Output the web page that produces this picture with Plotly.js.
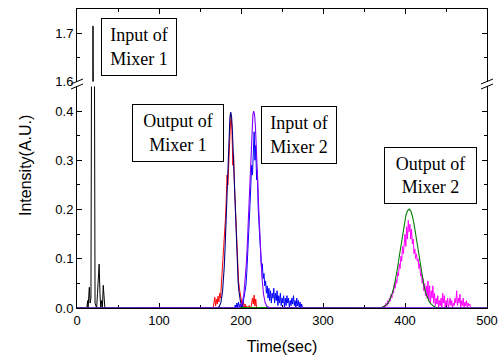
<!DOCTYPE html>
<html><head><meta charset="utf-8">
<script src="https://cdn.plot.ly/plotly-3.0.1.min.js"></script>
<style>html,body{margin:0;padding:0;background:#fff}#chart{width:498px;height:356px}</style>
</head><body><div id="chart"></div>
<script>
// Input of Mixer 1 (black)
const blackT = [0, 10, 12, 13, 13.5, 15, 16, 17, 19.5, 22, 23, 24, 25, 26, 27, 28, 29, 30, 31, 32, 33, 34, 40];
const blackV = [0, 0, 0, 0.015, 0, 0.042, 0.01, 0.02, 1.715, 0.01, 0.004, 0, 0.03, 0.07, 0.089, 0.03, 0, 0.015, 0, 0.046, 0.02, 0, 0];

// Output of Mixer 1 (red, measured)
const redT = [165,166,167,168,169,170,171,172,173,174,175,176,177,178,179,180,181,182,183,184,185,186,187,188,189,190,191,192,193,194,195,196,197,198,199,200,201,202,203,204,205,206,207,208,209,210,211,212,213,214,215,216,217,218,219,220,222];
const redV = [0,0,0.01,0.022,0.004,0.018,0.008,0.024,0.012,0.03,0.02,0.045,0.06,0.085,0.11,0.15,0.18,0.22,0.27,0.25,0.30,0.34,0.37,0.39,0.36,0.29,0.31,0.25,0.21,0.16,0.12,0.08,0.055,0.04,0.025,0.02,0.01,0.005,0.012,0,0.008,0,0.004,0,0,0.005,0,0,0.01,0.02,0.008,0.026,0.004,0.018,0,0,0];

// Input of Mixer 2 (blue, measured)
const blueT = [192,193,194,195,196,197,198,199,200,201,202,203,204,205,206,207,208,209,210,211,212,213,214,215,216,217,218,219,220,221,222,223,224,225,226,227,228,229,230,231,232,233,234,235,236,237,238,239,240,241,242,243,244,245,246,247,248,249,250,251,252,253,254,255,256,257,258,259,260,261,262,263,264,265,266,267,268,269,270,271,272,273,274,275];
const blueV = [0,0.006,0,0.01,0.002,0.012,0,0.008,0.003,0.01,0.005,0.015,0.02,0.03,0.045,0.07,0.10,0.13,0.17,0.21,0.25,0.29,0.27,0.34,0.358,0.30,0.33,0.26,0.28,0.20,0.17,0.12,0.10,0.08,0.09,0.06,0.07,0.045,0.055,0.03,0.045,0.02,0.04,0.015,0.035,0.01,0.03,0.02,0.04,0.01,0.03,0.015,0.035,0.005,0.025,0.01,0.03,0.005,0.02,0.01,0.025,0,0.02,0.005,0.025,0.01,0.02,0,0.015,0.005,0.02,0.008,0.025,0.005,0.015,0,0.02,0.004,0.015,0.002,0.012,0,0.008,0];

// Output of Mixer 2 (magenta, measured)
const magT = [372,373,374,375,376,377,378,379,380,381,382,383,384,385,386,387,388,389,390,391,392,393,394,395,396,397,398,399,400,401,402,403,404,405,406,407,408,409,410,411,412,413,414,415,416,417,418,419,420,421,422,423,424,425,426,427,428,429,430,431,432,433,434,435,436,437,438,439,440,441,442,443,444,445,446,447,448,449,450,451,452,453,454,455,456,457,458,459,460,461,462,463,464,465,466,467,468,469,470,471,472,473,474,475,476,477,478,479,480];
const magV = [0,0.004,0,0.006,0.002,0.01,0.004,0.015,0.008,0.02,0.014,0.028,0.02,0.036,0.03,0.048,0.04,0.058,0.05,0.072,0.065,0.09,0.08,0.105,0.095,0.125,0.11,0.135,0.15,0.125,0.165,0.14,0.178,0.155,0.17,0.14,0.16,0.13,0.14,0.11,0.12,0.10,0.11,0.095,0.10,0.08,0.09,0.065,0.07,0.05,0.06,0.035,0.05,0.025,0.045,0.02,0.055,0.015,0.045,0.01,0.035,0.02,0.045,0.01,0.03,0.005,0.02,0.008,0.025,0,0.015,0.005,0.02,0,0.03,0.01,0.025,0,0.015,0.005,0.02,0,0.01,0.02,0.005,0.015,0,0.01,0.005,0.02,0.01,0.035,0.005,0.02,0.01,0.028,0,0.015,0.005,0.02,0,0.012,0.004,0.015,0,0.01,0.004,0.008,0];

// Fitted curves
const fit1T = [0,169.5,171.5,173.5,175.5,177.5,178.5,179.5,180.5,181.5,182.5,183.5,184.5,185.5,186.5,187.5,188.5,189.5,190.5,191.5,192.5,193.5,194.5,195.5,196.5,197.5,199.5,201.5,203.5,205.5,500];
const fit1V = [0,0,0.0007,0.0031,0.0114,0.0337,0.0539,0.0819,0.1187,0.1636,0.2147,0.2681,0.3187,0.3606,0.3883,0.398,0.3883,0.3606,0.3187,0.2681,0.2147,0.1636,0.1187,0.0819,0.0539,0.0337,0.0114,0.0031,0.0007,0,0];

const fit2T = [0,195.5,197.5,199.5,201.5,203.5,205.5,206.5,207.5,208.5,209.5,210.5,211.5,212.5,213.5,214.5,215.5,216.5,217.5,218.5,219.5,220.5,221.5,222.5,223.5,224.5,225.5,227.5,229.5,231.5,233.5,235.5,500];
const fit2V = [0,0.0002,0.001,0.0035,0.0107,0.0279,0.063,0.0894,0.1225,0.1616,0.2056,0.2519,0.2976,0.3387,0.3715,0.3927,0.40,0.3927,0.3715,0.3387,0.2976,0.2519,0.2056,0.1616,0.1225,0.0894,0.063,0.0279,0.0107,0.0035,0.001,0.0002,0];

const fit3T = [0,365,369,372,375,377,379,381,383,385,387,389,391,393,395,397,399,401,403,405,407,409,411,413,415,417,419,421,423,425,427,429,431,433,435,438,441,445,500];
const fit3V = [0,0,0.0006,0.0014,0.0034,0.0057,0.0094,0.0148,0.0224,0.0328,0.0462,0.063,0.0826,0.1046,0.1277,0.1504,0.1707,0.1869,0.1974,0.201,0.1974,0.1869,0.1707,0.1504,0.1277,0.1046,0.0826,0.063,0.0462,0.0328,0.0224,0.0148,0.0094,0.0057,0.0034,0.0014,0.0006,0,0];

const xTicks = [0,100,200,300,400,500];

function tr(x, y, color, w, xa, ya) {
  return {x: x, y: y, type: 'scatter', mode: 'lines', xaxis: xa || 'x', yaxis: ya || 'y',
    line: {color: color, width: w}, hoverinfo: 'skip', showlegend: false};
}

const data = [
  tr(blackT, blackV, '#000000', 1),
  tr(blackT, blackV, '#000000', 1, 'x2', 'y2'),
  tr(redT, redV, '#ff0000', 1),
  tr(blueT, blueV, '#0000ff', 1),
  tr(magT, magV, '#ff00ff', 1),
  tr(fit1T, fit1V, '#000080', 1.1),
  tr(fit3T, fit3V, '#008000', 1.1),
  tr(fit2T, fit2V, '#8000ff', 1.1)
];

const tickFont = {family: 'Liberation Sans, Arial, sans-serif', size: 13, color: '#000'};
const axBase = {showline: true, linecolor: '#000', linewidth: 1, ticks: 'inside', ticklen: 5,
  tickwidth: 1, tickcolor: '#000', showgrid: false, zeroline: false, tickfont: tickFont,
  layer: 'below traces'};
const minorT = {ticks: 'inside', ticklen: 3, tickwidth: 1, tickcolor: '#000', showgrid: false};

const boxFont = {family: 'Liberation Serif, Times New Roman, serif', size: 18, color: '#000'};
function box(text, cx, cy, w, h) {
  return {xref: 'paper', yref: 'paper', x: (cx - 77) / 410, y: (308 - cy) / 299,
    xanchor: 'center', yanchor: 'middle', text: text, showarrow: false, font: boxFont,
    align: 'center', bordercolor: '#000', borderwidth: 1, borderpad: 0,
    width: w - 2, height: h - 2, bgcolor: '#ffffff'};
}
function px(x) { return (x - 77) / 410; }
function py(y) { return (308 - y) / 299; }
function brk(x0, y0, x1, y1) {
  return {type: 'line', xref: 'paper', yref: 'paper', x0: px(x0), y0: py(y0), x1: px(x1), y1: py(y1),
    line: {color: '#000', width: 1}};
}

const layout = {
  width: 498, height: 356,
  margin: {l: 77, r: 11, t: 9, b: 48, pad: 0},
  paper_bgcolor: '#fff', plot_bgcolor: '#fff',
  showlegend: false,
  xaxis: Object.assign({}, axBase, {domain: [0, 1], anchor: 'y', range: [0, 500],
    tickmode: 'array', tickvals: xTicks, ticktext: xTicks.map(String),
    minor: Object.assign({dtick: 50, tick0: 0}, minorT),
    title: {text: 'Time(sec)', font: {family: 'Liberation Sans, Arial, sans-serif', size: 16, color: '#000'}, standoff: 14}}),
  xaxis2: Object.assign({}, axBase, {domain: [0, 1], anchor: 'y2', side: 'top', range: [0, 500],
    dtick: 100, tick0: 0, showticklabels: false,
    minor: Object.assign({dtick: 50, tick0: 0}, minorT)}),
  yaxis: Object.assign({}, axBase, {domain: [0, 0.741], anchor: 'x', range: [0, 0.45],
    dtick: 0.1, tick0: 0, tickformat: '.1f', mirror: 'ticks',
    minor: Object.assign({dtick: 0.05, tick0: 0}, minorT)}),
  yaxis2: Object.assign({}, axBase, {domain: [0.7575, 1], anchor: 'x2', range: [1.6, 1.75],
    dtick: 0.1, tick0: 1.6, tickformat: '.1f', mirror: 'ticks',
    minor: Object.assign({dtick: 0.05, tick0: 1.6}, minorT)}),
  annotations: [
    box('Input of<br>Mixer 1', 139, 47, 76, 58),
    box('Output of<br>Mixer 1', 178, 133, 92, 58),
    box('Input of<br>Mixer 2', 299, 135, 76, 58),
    box('Output of<br>Mixer 2', 430.5, 175.5, 93, 57),
    {xref: 'paper', yref: 'paper', x: px(25), y: py(166), xanchor: 'center', yanchor: 'middle',
     text: 'Intensity(A.U.)', textangle: -90, showarrow: false,
     font: {family: 'Liberation Sans, Arial, sans-serif', size: 16, color: '#000'}}
  ],
  shapes: [
    brk(71, 84, 83, 79), brk(71, 89, 83, 84),
    brk(481, 84, 493, 79), brk(481, 89, 493, 84)
  ]
};

Plotly.newPlot('chart', data, layout, {displayModeBar: false, staticPlot: true});
</script></body></html>
